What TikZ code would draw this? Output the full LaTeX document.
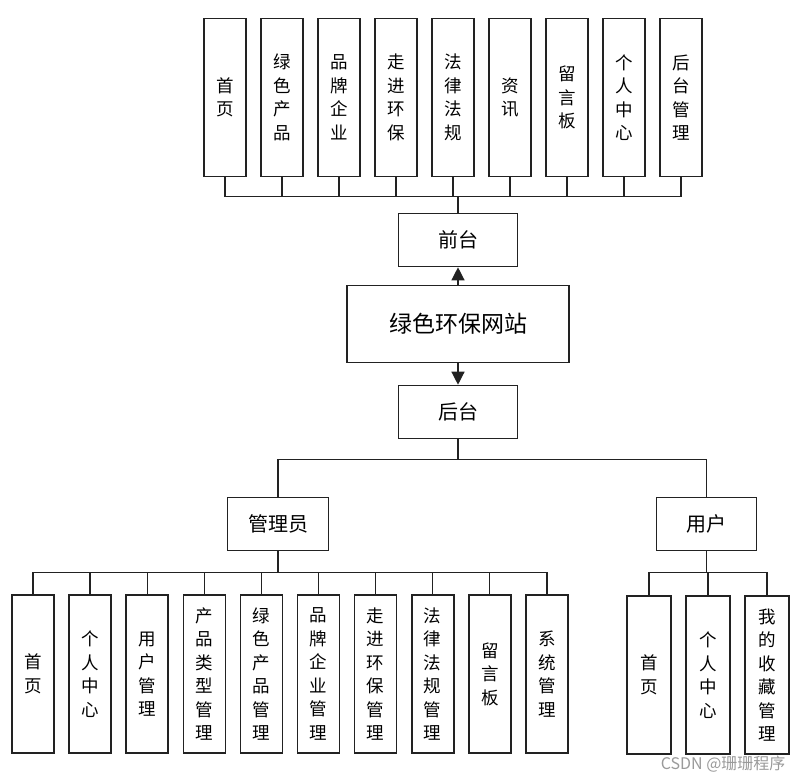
\documentclass[tikz,border=0pt]{standalone}
\usepackage{fontspec}
\newfontfamily\cjk{Noto Sans CJK SC}
\usetikzlibrary{arrows.meta}

\definecolor{Cline}{HTML}{222222}
\definecolor{Cmark}{HTML}{9A9A9A}

\tikzset{
  box/.style={draw=Cline,line width=1.6pt,fill=white,inner sep=0pt,
    minimum width=119pt,minimum height=53pt,font=\cjk\fontsize{20}{24}\selectfont},
  tallbox/.style={box,minimum width=42pt,minimum height=158pt,align=center,
    font=\cjk\fontsize{17.5}{23.5}\selectfont},
  link/.style={draw=Cline,line width=1.3pt},
  arr/.style={link,-{Triangle[length=13pt,width=13pt]}},
}

\begin{document}
\begin{tikzpicture}[x=1pt,y=-1pt]
	\useasboundingbox (0,0) rectangle (805,782);
	% centre column
	\node[box,minimum width=222pt,minimum height=77pt,
		font=\cjk\fontsize{23}{28}\selectfont] (site) at (458,324) {绿色环保网站};
	\node[box] (front) at (458,240) {前台};
	\node[box] (back) at (458,412) {后台};
	\draw[arr] (site) -- (front);
	\draw[arr] (site) -- (back);
	% front pages
	\foreach \i/\t in {0/首\\页,1/绿\\色\\产\\品,2/品\\牌\\企\\业,3/走\\进\\环\\保,
			4/法\\律\\法\\规,5/资\\讯,6/留\\言\\板,7/个\\人\\中\\心,8/后\\台\\管\\理}{
			\node[tallbox] (f\i) at (225+57*\i,97.5) {\t};
			\draw[link] (front.north) -- ++(0,-16) -| (f\i.south);}
	% roles
	\node[box,minimum width=101pt] (admin) at (278,524) {管理员};
	\node[box,minimum width=100pt] (user) at (706.5,524) {用户};
	\draw[link] (back.south) -- ++(0,20) -| (admin.north);
	\draw[link] (back.south) -- ++(0,20) -| (user.north);
	% admin pages
	\foreach \i/\t in {0/首\\页,1/个\\人\\中\\心,2/用\\户\\管\\理,3/产\\品\\类\\型\\管\\理,
			4/绿\\色\\产\\品\\管\\理,5/品\\牌\\企\\业\\管\\理,6/走\\进\\环\\保\\管\\理,
			7/法\\律\\法\\规\\管\\理,8/留\\言\\板,9/系\\统\\管\\理}{
			\node[tallbox] (a\i) at (33+57.1*\i,674) {\t};
			\draw[link] (admin.south) -- ++(0,21) -| (a\i.north);}
	% user pages
	\foreach \i/\x/\t in {0/649/首\\页,1/708/个\\人\\中\\心,2/767/我\\的\\收\\藏\\管\\理}{
			\node[tallbox,minimum width=44pt] (u\i) at (\x,675) {\t};
			\draw[link] (user.south) -- ++(0,21) -| (u\i.north);}
	\node[font=\cjk\fontsize{16}{18}\selectfont,text=Cmark,anchor=east] (mark) at (789,764) {CSDN @珊珊程序};
\end{tikzpicture}
\end{document}
